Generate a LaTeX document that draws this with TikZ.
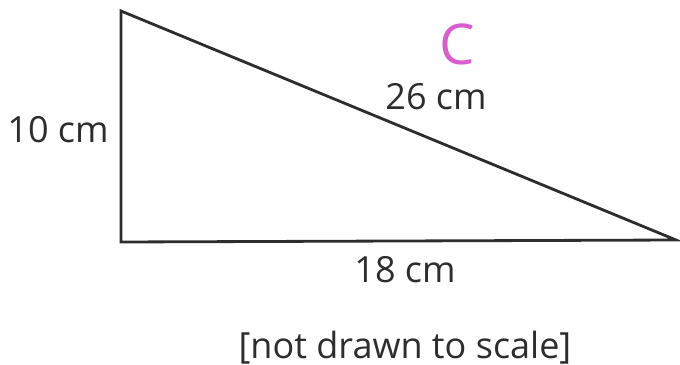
\documentclass[tikz,border=0pt]{standalone}
\usepackage{fontspec}
\setmainfont{Open Sans}
\definecolor{inkgray}{RGB}{45,45,45}
\definecolor{pinkpen}{RGB}{215,95,205}
\usetikzlibrary{positioning}

\begin{document}
\begin{tikzpicture}[
      x=0.02cm, y=-0.02cm,
      side/.style={draw=inkgray, line width=1.6pt, line join=miter},
      label/.style={font=\fontsize{20.5}{24}\selectfont, text=inkgray, inner sep=0pt},
      penmark/.style={font=\fontsize{32}{36}\selectfont, text=pinkpen, inner sep=0pt}
    ]
    \useasboundingbox (0,0) rectangle (680,365);

    % corners
    \coordinate (top) at (121,11);
    \coordinate (corner) at (121,242);
    \coordinate (tip) at (676,240);

    \draw[side] (top) -- (corner) -- (tip) -- cycle;

    % side lengths
    \node[label] (left) at (58,130) {10 cm};
    \node[label] (hyp) at (436,97) {26 cm};
    \node[label] (base) at (405,270) {18 cm};

    % hand mark
    \node[penmark] (handc) at (457,44) {C};

    \node[label] (note) at (405,348) {[not drawn to scale]};

  \end{tikzpicture}
\end{document}
